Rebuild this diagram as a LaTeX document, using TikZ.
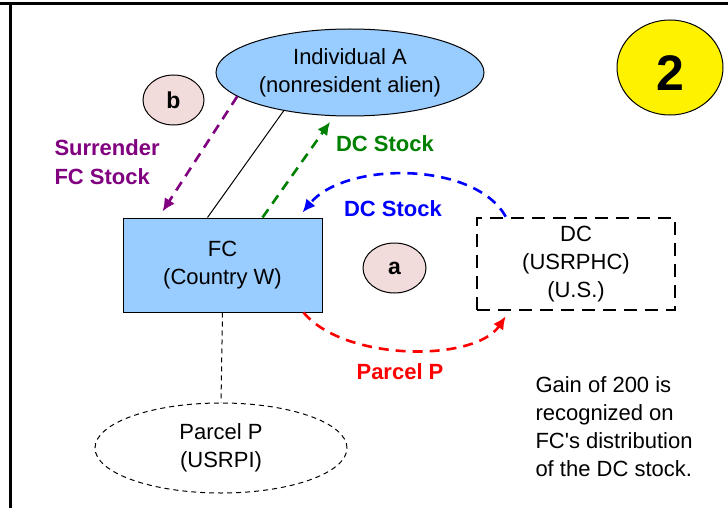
\documentclass[tikz,border=0pt]{standalone}
\usepackage{fontspec}
\setmainfont{Liberation Sans}[Ligatures=TeXOff]
\usetikzlibrary{shapes.geometric,arrows.meta}
\definecolor{lblue}{RGB}{153,204,255}
\definecolor{pinkish}{RGB}{242,220,219}
\definecolor{dgreen}{RGB}{0,128,0}
\definecolor{dpurple}{RGB}{128,0,128}
\begin{document}
\begin{tikzpicture}[>={Latex[length=13pt,width=12pt]}, x=1pt, y=-1pt, line width=1pt,
  txt/.style={font=\fontsize{22}{28}\selectfont, align=center, inner sep=0pt},
  lab/.style={font=\fontsize{22}{29}\selectfont\bfseries, inner sep=0pt},
  flow/.style={->, line width=2.6pt, dash pattern=on 10pt off 7pt},
  tag/.style={ellipse, draw, fill=pinkish, minimum width=61pt, minimum height=50pt, inner sep=0pt, font=\fontsize{23}{24}\selectfont\bfseries}]
\useasboundingbox (0,0) rectangle (728,508);
% frame
\draw[line width=3pt] (0,4)--(728,4);
\draw[line width=3pt] (10,4)--(10,508);
% parties
\node[ellipse, draw, fill=lblue, minimum width=268pt, minimum height=87pt, txt] (indA) at (350,72.5) {Individual A\\(nonresident alien)};
\node[ellipse, draw, fill=yellow, minimum width=106pt, minimum height=95pt, inner sep=0pt, text height=46pt, font=\fontsize{50}{50}\selectfont\bfseries] (step2) at (670,67.5) {2};
\node[tag] (tagb) at (173.5,100) {b};
\node[tag, minimum width=63pt] (taga) at (394.5,268) {a};
\node[draw, fill=lblue, minimum width=199pt, minimum height=94pt, txt] (fc) at (222.5,265) {FC\\(Country W)};
\node[draw, line width=2.6pt, dash pattern=on 13pt off 8pt, minimum width=198pt, minimum height=92pt, txt] (dc) at (576,264) {DC\\(USRPHC)\\(U.S.)};
\node[ellipse, draw, dash pattern=on 5pt off 4pt, minimum width=252pt, minimum height=90pt, txt] (parcel) at (221,448) {Parcel P\\(USRPI)};
% ownership lines
\draw ([xshift=-15pt]fc.north)--(indA.210);
\draw[dash pattern=on 5pt off 4pt] (fc.south)--(parcel.north);
% transfers
\draw[flow, dpurple] (indA.192.6)--([xshift=40pt,yshift=6pt]fc.north west);
\node[lab, dpurple, align=left, anchor=west] (surr) at (54,162) {Surrender\\FC Stock};
\draw[flow, dgreen, shorten >=7pt] ([xshift=40pt]fc.north)--(indA.250);
\node[lab, dgreen] (grn) at (385,144) {DC Stock};
\draw[flow, blue] ([xshift=30pt]dc.north west) .. controls (475,161) and (345,161) .. ([xshift=-20pt,yshift=5pt]fc.north east);
\node[lab, blue] (blu) at (393,209) {DC Stock};
\draw[flow, red] ([xshift=-19pt]fc.south east) .. controls (345,362) and (475,362) .. ([xshift=30pt,yshift=-5pt]dc.south west);
\node[lab, red] (rd) at (400,372) {Parcel P};
\node[txt, align=left, anchor=north west] (gain) at (535,376) {Gain of 200 is\\recognized on\\FC's distribution\\of the DC stock.};
\end{tikzpicture}
\end{document}
